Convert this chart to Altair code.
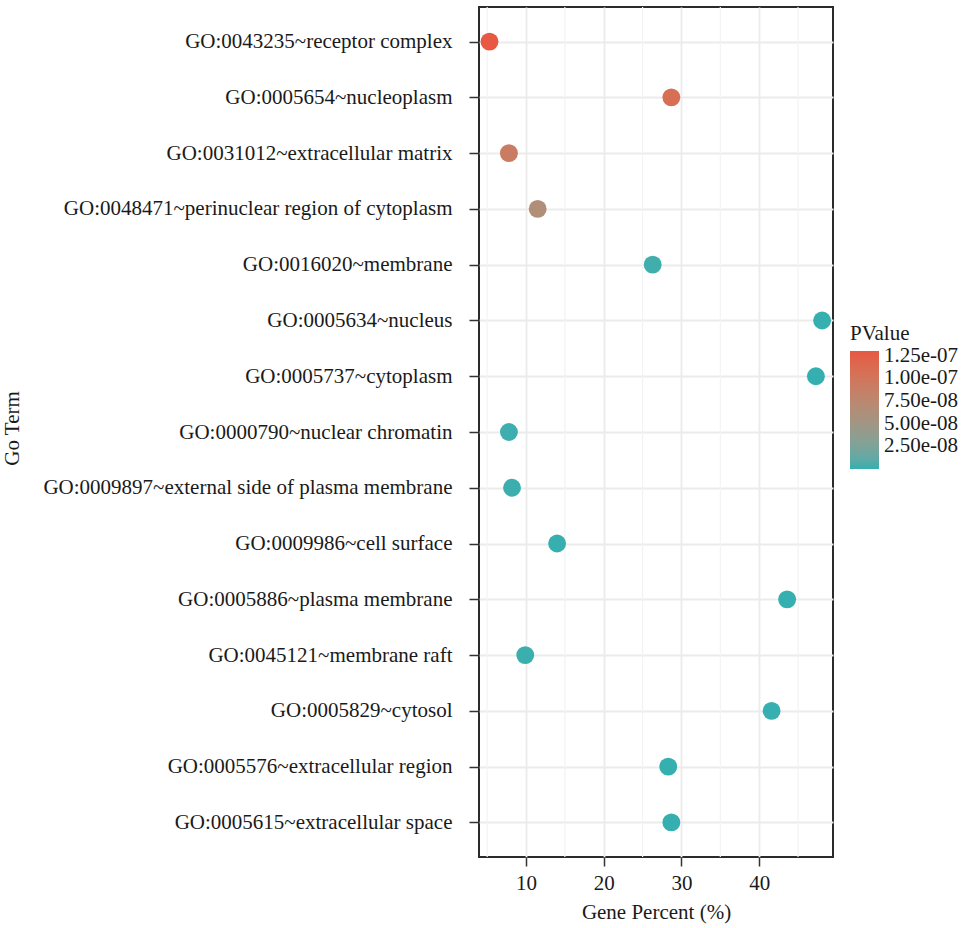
import altair as alt
import pandas as pd

terms = [
    "GO:0043235~receptor complex",
    "GO:0005654~nucleoplasm",
    "GO:0031012~extracellular matrix",
    "GO:0048471~perinuclear region of cytoplasm",
    "GO:0016020~membrane",
    "GO:0005634~nucleus",
    "GO:0005737~cytoplasm",
    "GO:0000790~nuclear chromatin",
    "GO:0009897~external side of plasma membrane",
    "GO:0009986~cell surface",
    "GO:0005886~plasma membrane",
    "GO:0045121~membrane raft",
    "GO:0005829~cytosol",
    "GO:0005576~extracellular region",
    "GO:0005615~extracellular space",
]
gene_percent = [5.3, 28.7, 7.8, 11.5, 26.3, 48.1, 47.3, 7.8, 8.2, 14.0, 43.6, 9.9, 41.6, 28.3, 28.7]
pvalues = [1.30e-07, 1.08e-07, 9.2e-08, 6.5e-08, 2.0e-09, 1.0e-12, 1.0e-14, 1.5e-09, 1.2e-09,
           5.0e-10, 1.0e-16, 8.0e-10, 1.0e-18, 2.0e-10, 1.0e-20]
minor_grid = [5, 15, 25, 35, 45]
legend_values = [2.5e-08, 5.0e-08, 7.5e-08, 1.0e-07, 1.25e-07]

df = pd.DataFrame({"term": terms, "pct": gene_percent, "p": pvalues})
grid_df = pd.DataFrame({"g": minor_grid})

FONT = "Liberation Serif"
TXT = "#1a1a1a"
xscale = alt.Scale(domain=[3.95, 49.5], nice=False, zero=False)

minor = alt.Chart(grid_df).mark_rule(color="#F3F3F3", strokeWidth=1.2).encode(
    x=alt.X("g:Q", scale=xscale)
)

points = alt.Chart(df).mark_circle(size=320, opacity=0.93).encode(
    x=alt.X("pct:Q", scale=xscale, title="Gene Percent (%)",
            axis=alt.Axis(values=[10, 20, 30, 40], grid=True, gridColor="#EBEBEB",
                          gridWidth=1.8, tickColor="#333333", tickSize=9, tickWidth=1.5,
                          labelFontSize=21, titleFontSize=21, labelPadding=6, titlePadding=8,
                          domain=False, labelColor=TXT, titleColor=TXT,
                          titleFontWeight="normal")),
    y=alt.Y("term:N", sort=terms, title="Go Term",
            scale=alt.Scale(type="point", padding=0.62),
            axis=alt.Axis(grid=True, gridColor="#EBEBEB", gridWidth=1.8,
                          tickColor="#333333", tickSize=10, tickWidth=1.5,
                          labelFontSize=21, titleFontSize=21, labelPadding=17,
                          domain=False, labelColor=TXT, titleColor=TXT,
                          titleFontWeight="normal", labelLimit=700,
                          titleX=-457, titleY=421)),
    color=alt.Color("p:Q", title="PValue",
                    scale=alt.Scale(range=["#26A9A9", "#E64B35"], interpolate="lab",
                                    domain=[0, 1.30e-07], nice=False, zero=False),
                    legend=alt.Legend(values=legend_values, gradientLength=118,
                                      gradientThickness=29, labelFontSize=21,
                                      titleFontSize=21, titleFontWeight="normal",
                                      labelExpr="slice(format(datum.value,'.2e'),0,4)+'e-0'+slice(format(datum.value,'.2e'),6)",
                                      labelColor=TXT, titleColor=TXT,
                                      gradientStrokeWidth=0, labelOffset=5,
                                      orient="none", legendX=371, legendY=316,
                                      titlePadding=7)),
)

chart = alt.layer(minor, points).properties(
    width=354, height=850,
    autosize=alt.AutoSizeParams(type="none"),
    padding={"left": 479, "top": 7, "right": 134, "bottom": 71},
).configure(font=FONT).configure_view(
    stroke="#2b2b2b", strokeWidth=2
).configure_axis(labelFont=FONT, titleFont=FONT).configure_legend(
    labelFont=FONT, titleFont=FONT
)

chart.save("out.html", embed_options={"renderer": "svg", "actions": False})
